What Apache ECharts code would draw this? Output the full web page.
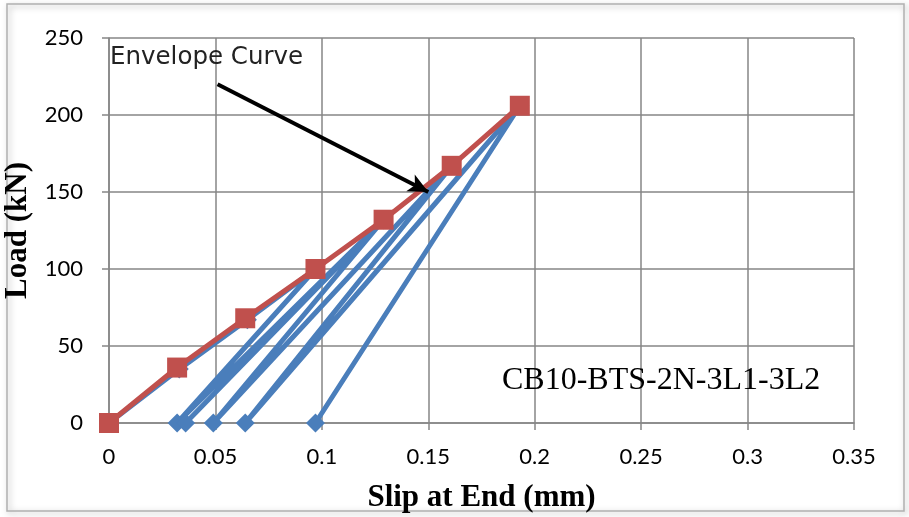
<!DOCTYPE html>
<html>
<head>
<meta charset="utf-8">
<script src="https://cdn.jsdelivr.net/npm/echarts@6/dist/echarts.min.js"></script>
<style>
html,body{margin:0;padding:0;background:#fff;}
#chart{width:909px;height:517px;}
</style>
</head>
<body>
<div id="chart"></div>
<script>
// Envelope curve (red squares)
var envSlip = [0, 0.032, 0.064, 0.097, 0.129, 0.161, 0.193];
var envLoad = [0, 36, 68, 100, 132, 167, 206];
// Cyclic loading history (blue diamonds)
var cycSlip = [0, 0.033, 0.065, 0.097, 0.032, 0.129, 0.036, 0.129, 0.049, 0.161, 0.064, 0.193, 0.097];
var cycLoad = [0, 35, 67, 100, 0, 132, 0, 132, 0, 167, 0, 206, 0];
// Axis ticks
var xTicks = {min: 0, max: 0.35, interval: 0.05};
var yTicks = {min: 0, max: 250, interval: 50};
// Annotation (arrow from label to the envelope), in data units
var arrowFrom = [0.051, 220];
var arrowTo = [0.150, 150];
var xTitle = 'Slip at End (mm)';
var yTitle = 'Load (kN)';
var noteText = 'Envelope Curve';
var specimen = 'CB10-BTS-2N-3L1-3L2';

function pairs(xs, ys){ return xs.map(function(x,i){ return [x, ys[i]]; }); }

var chart = echarts.init(document.getElementById('chart'), null, {renderer:'canvas'});
var gridColor = '#868686';
var option = {
  animation: false,
  grid: {left: 109, right: 55, top: 38, bottom: 94, containLabel: false, outerBoundsMode: 'none'},
  xAxis: {
    type: 'value', min: xTicks.min, max: xTicks.max, interval: xTicks.interval,
    axisLine: {show: true, onZero: false, lineStyle: {color: gridColor, width: 1.5}},
    axisTick: {show: true, length: 7, lineStyle: {color: gridColor, width: 1.5}},
    splitLine: {show: true, lineStyle: {color: gridColor, width: 1.5}},
    axisLabel: {margin: 23, color: '#000', fontFamily: 'Lato', fontSize: 22,
      formatter: function(v){ return String(parseFloat(v.toFixed(2))); }},
    name: xTitle, nameLocation: 'middle', nameGap: 59,
    nameTextStyle: {fontFamily: 'Liberation Serif', fontWeight: 'bold', fontSize: 31, color: '#000'}
  },
  yAxis: {
    type: 'value', min: yTicks.min, max: yTicks.max, interval: yTicks.interval,
    axisLine: {show: true, lineStyle: {color: gridColor, width: 1.5}},
    axisTick: {show: true, length: 7, lineStyle: {color: gridColor, width: 1.5}},
    splitLine: {show: true, lineStyle: {color: gridColor, width: 1.5}},
    axisLabel: {margin: 26, color: '#000', fontFamily: 'Lato', fontSize: 22},
    name: yTitle, nameLocation: 'middle', nameGap: 67, nameRotate: 90,
    nameTextStyle: {fontFamily: 'Liberation Serif', fontWeight: 'bold', fontSize: 31, color: '#000'}
  },
  graphic: [
    {type: 'rect', shape: {x: 7, y: 4, width: 897, height: 507},
     style: {fill: 'none', stroke: '#b0b0b0', lineWidth: 1.5, shadowBlur: 6, shadowColor: 'rgba(0,0,0,0.35)', shadowOffsetX: 2, shadowOffsetY: 2}, z: -1, silent: true},
    {type: 'text', left: 110, top: 45,
     style: {text: noteText, fontFamily: 'DejaVu Sans', fontSize: 24.5, fill: '#222'}, z: 10},
    {type: 'text', left: 502, top: 365,
     style: {text: specimen, fontFamily: 'Liberation Serif', fontSize: 32, fill: '#000'}, z: 10}
  ],
  series: [
    {
      type: 'line', data: pairs(cycSlip, cycLoad),
      symbol: 'diamond', symbolSize: 19, showAllSymbol: true,
      lineStyle: {color: '#4A7EBB', width: 5},
      itemStyle: {color: '#4A7EBB'}, z: 2
    },
    {
      type: 'line', data: pairs(envSlip, envLoad),
      symbol: 'rect', symbolSize: 20,
      lineStyle: {color: '#C0504D', width: 5},
      itemStyle: {color: '#C0504D'}, z: 3,
      markLine: {
        silent: true, animation: false,
        label: {show: false},
        lineStyle: {color: '#000', width: 4, type: 'solid'},
        data: [[
          {coord: arrowFrom, symbol: 'none', symbolSize: 1},
          {coord: arrowTo, symbol: 'arrow', symbolSize: [14, 20]}
        ]]
      }
    }
  ]
};
chart.setOption(option);
</script>
</body>
</html>
